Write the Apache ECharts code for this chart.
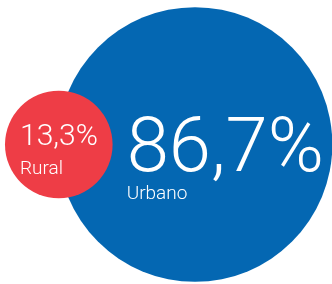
<!DOCTYPE html>
<html>
<head>
<meta charset="utf-8">
<script src="https://cdn.jsdelivr.net/npm/echarts@6/dist/echarts.min.js"></script>
<style>
    html, body { margin: 0; padding: 0; background: #fff; }
    #chart { width: 332px; height: 284px; }
</style>
</head>
<body>
<div id="chart"></div>
<script>
/*data*/
var categories = ['Urbano', 'Rural'];
var shares = [86.7, 13.3];
var shareLabels = ['86,7%', '13,3%'];
var colors = ['#0467B2', '#EE3D46'];

var initBubbles = function () {
    var chart = echarts.init(document.getElementById('chart'));
    /*bubble diameter from sqrt of share (area ~ value)*/
    var k = 29.5;
    var sizes = shares.map(function (v) { return k * Math.sqrt(v); });
    /*layout: big bubble centred, small one hugging the left edge*/
    var cy = 144.5;
    var centersX = [195, 5 + sizes[1] / 2];

    var fontFam = 'Roboto';
    var labelCfg = [
        {big: 76, small: 19, bigLH: 60, smallLH: 24, pos: [69, 115]},
        {big: 30, small: 19, bigLH: 40, smallLH: 24, pos: [15, 27]}
    ];

    var data = categories.map(function (name, i) {
        var c = labelCfg[i];
        return {
            name: name,
            value: [centersX[i], cy, shares[i]],
            symbolSize: sizes[i],
            itemStyle: {color: colors[i], opacity: 1},
            label: {
                show: true,
                position: c.pos,
                align: 'left',
                verticalAlign: 'top',
                formatter: '{v|' + shareLabels[i] + '}\n{n|' + name + '}',
                rich: {
                    v: {fontFamily: fontFam, fontWeight: 300, fontSize: c.big, lineHeight: c.bigLH, color: '#fff'},
                    n: {fontFamily: fontFam, fontWeight: 300, fontSize: c.small, lineHeight: c.smallLH, color: '#fff'}
                }
            }
        };
    });

    var option = {
        animation: false,
        grid: {left: 0, right: 0, top: 0, bottom: 0},
        xAxis: {type: 'value', min: 0, max: 332, show: false},
        yAxis: {type: 'value', min: 0, max: 284, inverse: true, show: false},
        series: [
            {type: 'scatter', symbol: 'circle', data: [data[0]], silent: true, z: 1},
            {type: 'scatter', symbol: 'circle', data: [data[1]], silent: true, z: 2}
        ]
    };
    chart.setOption(option);
};
initBubbles();
</script>
</body>
</html>
